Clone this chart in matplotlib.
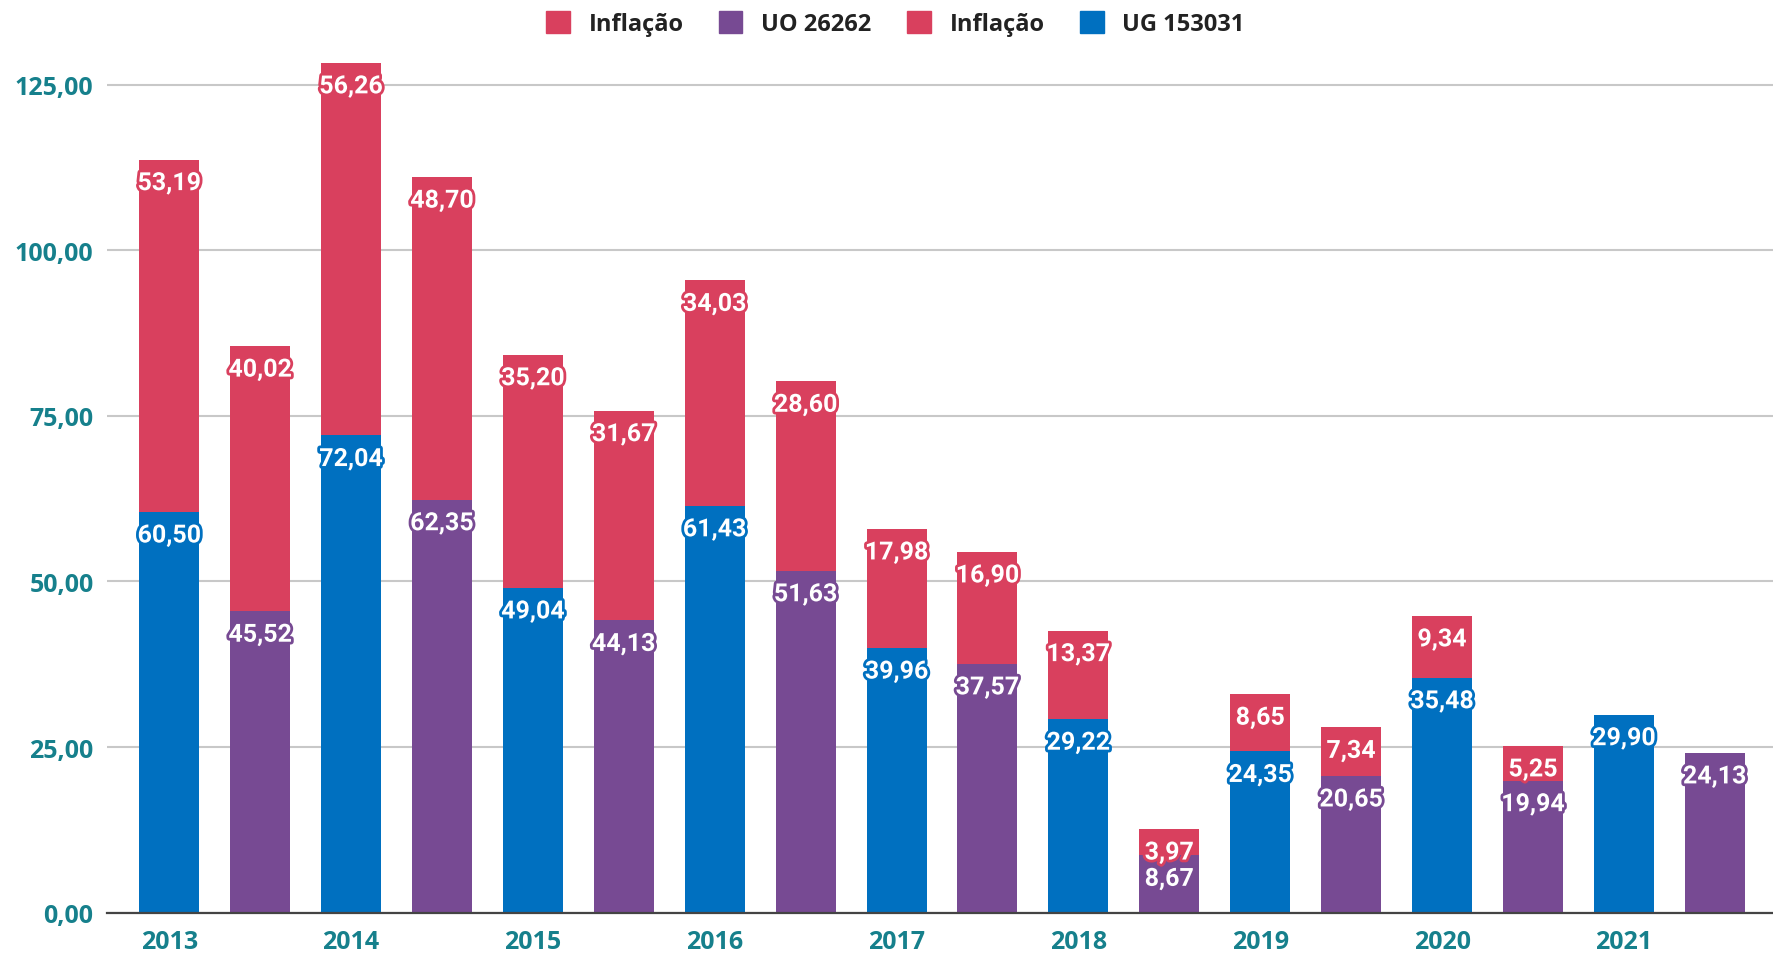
import matplotlib
matplotlib.use('Agg')
import matplotlib.pyplot as plt
import matplotlib.patheffects as pe
from matplotlib.patches import Patch
import numpy as np

years = ['2013', '2014', '2015', '2016', '2017', '2018', '2019', '2020', '2021']
ug_vals = [60.50, 72.04, 49.04, 61.43, 39.96, 29.22, 24.35, 35.48, 29.90]
ug_infl = [53.19, 56.26, 35.20, 34.03, 17.98, 13.37, 8.65, 9.34, None]
uo_vals = [45.52, 62.35, 44.13, 51.63, 37.57, 8.67, 20.65, 19.94, 24.13]
uo_infl = [40.02, 48.70, 31.67, 28.60, 16.90, 3.97, 7.34, 5.25, None]

BLUE = '#0070C0'
PURPLE = '#774A93'
RED = '#D9405E'
TEAL = '#16808C'

plt.rcParams['font.family'] = ['Open Sans', 'DejaVu Sans']

fig = plt.figure(figsize=(17.73, 9.54), dpi=100)
ax = fig.add_axes([0.0606, 0.0423, 0.9394, 0.9027])

x = np.arange(len(years))
x_ug = x * 2
x_uo = x * 2 + 1
w = 0.66


def fmt(v):
    return f'{v:.2f}'.replace('.', ',')


def label(xp, top, v, color):
    ax.annotate(fmt(v), (xp, top), xytext=(0, -17), textcoords='offset points',
                ha='center', va='center', color='white', fontsize=18,
                family=['Roboto', 'DejaVu Sans'], fontweight='bold', zorder=5,
                path_effects=[pe.withStroke(linewidth=4, foreground=color)])


for xs, base, infl, col in [(x_ug, ug_vals, ug_infl, BLUE), (x_uo, uo_vals, uo_infl, PURPLE)]:
    ax.bar(xs, base, width=w, color=col, zorder=3)
    inf = [v if v is not None else 0 for v in infl]
    ax.bar(xs, inf, width=w, bottom=base, color=RED, zorder=3)
    for xp, b, i in zip(xs, base, infl):
        label(xp, b, b, col)
        if i is not None:
            label(xp, b + i, i, RED)

ax.set_xlim(-0.68, 17.64)
ax.set_ylim(0, 130)
ax.set_yticks([0, 25, 50, 75, 100, 125])
ax.set_yticklabels([fmt(t) for t in [0, 25, 50, 75, 100, 125]])
ax.set_xticks(x_ug)
ax.set_xticklabels(years)
ax.tick_params(length=0, labelsize=18, labelcolor=TEAL)
ax.tick_params(axis='x', pad=12)
ax.tick_params(axis='y', pad=10)
for t in ax.get_xticklabels() + ax.get_yticklabels():
    t.set_fontweight('bold')
ax.grid(axis='y', color='#c8c8c8', linewidth=1.5, zorder=0)
for s in ['top', 'right', 'left']:
    ax.spines[s].set_visible(False)
ax.spines['bottom'].set_color('#444444')
ax.spines['bottom'].set_linewidth(1.6)
ax.spines['bottom'].set_zorder(4)

handles = [Patch(color=RED), Patch(color=PURPLE), Patch(color=RED), Patch(color=BLUE)]
names = ['Inflação', 'UO 26262', 'Inflação', 'UG 153031']
leg = fig.legend(handles, names, loc='center', bbox_to_anchor=(0.505, 0.974), ncol=4,
                 frameon=False, fontsize=17, handlelength=1.0, handleheight=1.0,
                 columnspacing=1.5, handletextpad=0.8)
for t in leg.get_texts():
    t.set_fontweight('bold')
    t.set_color('#222222')

fig.savefig('out.png', dpi=100)
